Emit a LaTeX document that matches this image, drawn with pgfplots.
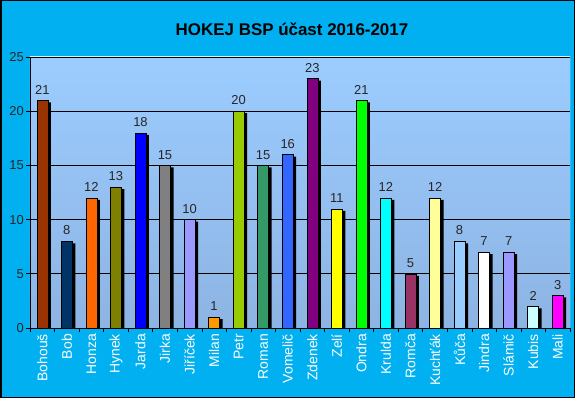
\documentclass[border=0pt]{standalone}
\usepackage{pgfplots}
\pgfplotsset{compat=1.18}
\usepackage{fontspec}
\setmainfont{Liberation Sans}
\definecolor{bgcyan}{HTML}{00B0F0}
\definecolor{plottop}{HTML}{9CCCFF}
\definecolor{plotbot}{HTML}{8DB4E3}
\definecolor{plotedge}{HTML}{CCFFFF}
\definecolor{c1}{HTML}{993300}
\definecolor{c2}{HTML}{003366}
\definecolor{c3}{HTML}{FF6600}
\definecolor{c4}{HTML}{808000}
\definecolor{c5}{HTML}{0000FF}
\definecolor{c6}{HTML}{808080}
\definecolor{c7}{HTML}{9999FF}
\definecolor{c8}{HTML}{FF9900}
\definecolor{c9}{HTML}{99CC00}
\definecolor{c10}{HTML}{339966}
\definecolor{c11}{HTML}{3366FF}
\definecolor{c12}{HTML}{800080}
\definecolor{c13}{HTML}{FFFF00}
\definecolor{c14}{HTML}{00FF00}
\definecolor{c15}{HTML}{00FFFF}
\definecolor{c16}{HTML}{993366}
\definecolor{c17}{HTML}{FFFF99}
\definecolor{c18}{HTML}{99CCFF}
\definecolor{c19}{HTML}{FFFFFF}
\definecolor{c20}{HTML}{9999FF}
\definecolor{c21}{HTML}{CCFFFF}
\definecolor{c22}{HTML}{FF00FF}
\pgfplotsset{
  mybar/.style={ybar, bar width=11bp, bar shift=0pt, fill=#1, draw=black, line width=0.5bp,
    nodes near coords, every node near coord/.append style={font=\fontsize{13}{15}\selectfont, text=black!85, anchor=south, inner sep=6bp}},
}
\begin{document}
\begin{tikzpicture}
\useasboundingbox (0,0) rectangle (575bp,398bp);
\fill[bgcyan] (0,0) rectangle (575bp,398bp);
\draw[black,line width=1.5bp] (0.75bp,0.75bp) rectangle (574.25bp,397.25bp);
\node[font=\bfseries\fontsize{17}{20}\selectfont] at (292bp,369bp) {HOKEJ BSP účast 2016-2017};
\begin{axis}[
  at={(30bp,70bp)}, anchor=south west,
  scale only axis, width=540bp, height=271bp,
  xmin=-0.5, xmax=21.5, ymin=0, ymax=25,
  axis lines*=left, axis line style={black, line width=0.8bp},
  ytick={0,5,...,25},
  ymajorgrids, grid style={black, line width=0.7bp},
  xtick={-0.5,0.5,...,21.5},
  xticklabels={Bohouš,Bob,Honza,Hynek,Jarda,Jirka,Jiříček,Milan,Petr,Roman,Vomelič,Zdenek,Zelí,Ondra,Krulda,Romča,Kuchťák,Kůča,Jindra,Slámič,Kubis,Mali},
  x tick label as interval,
  tick align=outside, major tick length=4bp,
  tick style={black, line width=0.6bp},
  x tick label style={rotate=90, anchor=east, font=\fontsize{14}{16}\selectfont, text=white, inner sep=2bp},
  y tick label style={font=\fontsize{13}{15}\selectfont, text=black!85, inner sep=2bp},
  /pgf/number format/assume math mode=true,
  axis background/.style={top color=plottop, bottom color=plotbot},
]
\addplot[ybar, bar width=11bp, bar shift=3bp, fill=black, draw=none, yshift=-2bp] coordinates {
(0,21) (1,8) (2,12) (3,13) (4,18) (5,15) (6,10) (7,1) (8,20) (9,15) (10,16)
(11,23) (12,11) (13,21) (14,12) (15,5) (16,12) (17,8) (18,7) (19,7) (20,2) (21,3)};
\addplot[mybar=c1] coordinates {(0,21)};
\addplot[mybar=c2] coordinates {(1,8)};
\addplot[mybar=c3] coordinates {(2,12)};
\addplot[mybar=c4] coordinates {(3,13)};
\addplot[mybar=c5] coordinates {(4,18)};
\addplot[mybar=c6] coordinates {(5,15)};
\addplot[mybar=c7] coordinates {(6,10)};
\addplot[mybar=c8] coordinates {(7,1)};
\addplot[mybar=c9] coordinates {(8,20)};
\addplot[mybar=c10] coordinates {(9,15)};
\addplot[mybar=c11] coordinates {(10,16)};
\addplot[mybar=c12] coordinates {(11,23)};
\addplot[mybar=c13] coordinates {(12,11)};
\addplot[mybar=c14] coordinates {(13,21)};
\addplot[mybar=c15] coordinates {(14,12)};
\addplot[mybar=c16] coordinates {(15,5)};
\addplot[mybar=c17] coordinates {(16,12)};
\addplot[mybar=c18] coordinates {(17,8)};
\addplot[mybar=c19] coordinates {(18,7)};
\addplot[mybar=c20] coordinates {(19,7)};
\addplot[mybar=c21] coordinates {(20,2)};
\addplot[mybar=c22] coordinates {(21,3)};
\draw[plotedge, line width=1bp] (rel axis cs:0,1) -- (rel axis cs:1,1) -- (rel axis cs:1,0);
\end{axis}
\end{tikzpicture}
\end{document}
